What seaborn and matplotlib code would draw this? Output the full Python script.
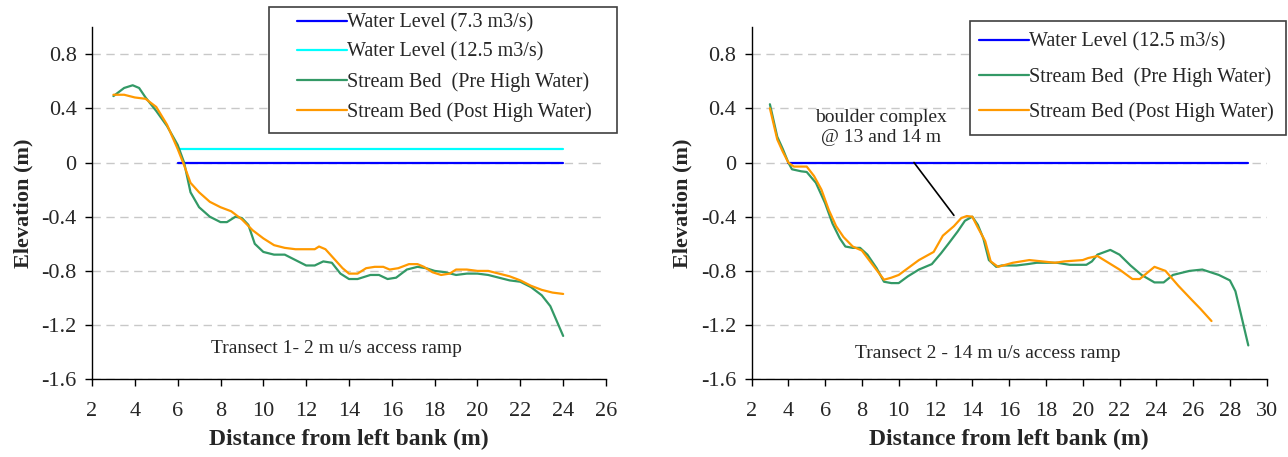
"""
Stream bed cross-sections before and after high water, two transects.
"""

import matplotlib
matplotlib.use("Agg")
import matplotlib.pyplot as plt
from matplotlib.patches import Rectangle
import seaborn as sns

# ---- Transect 1 (2 m u/s access ramp) ----
t1_wl_x = [6, 24]
t1_wl73_y = [0.0, 0.0]
t1_wl125_y = [0.1, 0.1]

t1_pre_x = [3.0, 3.5, 3.9, 4.2, 4.5, 5.0, 5.5, 6.0, 6.3, 6.6, 7.0, 7.5, 8.0, 8.3,
            8.7, 9.0, 9.3, 9.6, 10.0, 10.5, 11.0, 11.5, 12.0, 12.4, 12.8, 13.2,
            13.6, 14.0, 14.4, 15.0, 15.4, 15.8, 16.2, 16.7, 17.2, 17.6, 18.0,
            18.5, 19.0, 19.5, 20.0, 20.5, 21.0, 21.5, 22.0, 22.5, 23.0, 23.4,
            23.7, 24.0]
t1_pre_y = [0.49, 0.55, 0.57, 0.55, 0.48, 0.38, 0.27, 0.13, 0.0, -0.22, -0.33,
            -0.40, -0.44, -0.44, -0.40, -0.41, -0.46, -0.60, -0.66, -0.68, -0.68,
            -0.72, -0.76, -0.76, -0.73, -0.74, -0.82, -0.86, -0.86, -0.83, -0.83,
            -0.86, -0.85, -0.79, -0.77, -0.78, -0.80, -0.81, -0.83, -0.82, -0.82,
            -0.83, -0.85, -0.87, -0.88, -0.92, -0.98, -1.06, -1.17, -1.28]

t1_post_x = [3.0, 3.5, 4.0, 4.5, 5.0, 5.5, 6.0, 6.3, 6.6, 7.0, 7.5, 8.0, 8.5,
             9.0, 9.5, 10.0, 10.5, 11.0, 11.5, 12.0, 12.4, 12.6, 12.9, 13.3,
             13.7, 14.0, 14.4, 14.8, 15.2, 15.6, 15.9, 16.3, 16.8, 17.2, 17.5,
             17.9, 18.3, 18.7, 19.0, 19.5, 20.0, 20.5, 21.0, 21.5, 22.0, 22.5,
             23.0, 23.5, 24.0]
t1_post_y = [0.50, 0.50, 0.48, 0.47, 0.41, 0.28, 0.10, -0.02, -0.15, -0.22,
             -0.29, -0.33, -0.36, -0.42, -0.50, -0.56, -0.61, -0.63, -0.64, -0.64,
             -0.64, -0.62, -0.64, -0.71, -0.78, -0.82, -0.82, -0.78, -0.77, -0.77,
             -0.79, -0.78, -0.75, -0.75, -0.77, -0.81, -0.83, -0.82, -0.79, -0.79,
             -0.80, -0.80, -0.82, -0.84, -0.87, -0.91, -0.94, -0.96, -0.97]

# ---- Transect 2 (14 m u/s access ramp) ----
t2_wl_x = [4, 29]
t2_wl125_y = [0.0, 0.0]

t2_pre_x = [3.0, 3.4, 3.7, 4.0, 4.2, 4.7, 5.0, 5.5, 6.0, 6.4, 6.8, 7.1, 7.5,
            7.9, 8.3, 8.8, 9.2, 9.6, 10.0, 10.5, 11.1, 11.8, 12.3, 12.7, 13.2,
            13.6, 14.0, 14.3, 14.6, 14.9, 15.3, 15.6, 16.4, 17.0, 17.5, 18.6,
            19.3, 20.2, 20.5, 20.8, 21.5, 22.0, 22.6, 23.2, 23.9, 24.4, 24.9,
            25.8, 26.5, 27.4, 28.0, 28.3, 28.6, 29.0]
t2_pre_y = [0.43, 0.19, 0.10, 0.0, -0.05, -0.065, -0.07, -0.15, -0.30, -0.45,
            -0.56, -0.62, -0.63, -0.63, -0.68, -0.78, -0.88, -0.89, -0.89, -0.84,
            -0.79, -0.75, -0.67, -0.60, -0.51, -0.43, -0.40, -0.46, -0.56, -0.72,
            -0.77, -0.76, -0.76, -0.75, -0.74, -0.74, -0.755, -0.755, -0.73,
            -0.68, -0.645, -0.68, -0.76, -0.83, -0.885, -0.885, -0.83, -0.80,
            -0.79, -0.83, -0.87, -0.95, -1.12, -1.35]

t2_post_x = [3.0, 3.4, 3.7, 4.0, 4.3, 4.7, 5.0, 5.4, 5.8, 6.2, 6.6, 7.0, 7.5,
             8.0, 8.5, 9.2, 9.6, 10.0, 10.5, 11.1, 11.9, 12.4, 13.0, 13.4, 13.7,
             14.0, 14.3, 14.7, 15.0, 15.4, 16.2, 17.1, 17.8, 18.5, 19.0, 20.0,
             20.3, 20.8, 21.4, 22.0, 22.7, 23.1, 23.9, 24.5, 25.2, 25.9, 26.4,
             27.0]
t2_post_y = [0.40, 0.17, 0.08, 0.0, -0.03, -0.03, -0.03, -0.10, -0.20, -0.35,
             -0.47, -0.55, -0.62, -0.65, -0.74, -0.865, -0.85, -0.83, -0.78, -0.72,
             -0.66, -0.54, -0.47, -0.41, -0.395, -0.40, -0.48, -0.58, -0.73, -0.77,
             -0.74, -0.72, -0.73, -0.74, -0.73, -0.72, -0.705, -0.69, -0.74, -0.79,
             -0.86, -0.86, -0.77, -0.80, -0.91, -1.01, -1.08, -1.17]

YTICKS = [-1.6, -1.2, -0.8, -0.4, 0, 0.4, 0.8]
YTICK_LABELS = ["-1.6", "-1.2", "-0.8", "-0.4", "0", "0.4", "0.8"]

BLUE = "#0000FF"
CYAN = "#00FFFF"
GREEN = "#339966"
ORANGE = "#FF9900"

W, H = 1288, 457

sns.set_style("white")
plt.rcParams["font.family"] = ["Liberation Serif", "DejaVu Serif"]

fig = plt.figure(figsize=(W / 100, H / 100), dpi=100)
ax1 = fig.add_axes([92 / W, 1 - 379.3 / H, (606 - 92) / W, 352.3 / H])
ax2 = fig.add_axes([751.5 / W, 1 - 379.3 / H, (1266.7 - 751.5) / W, 352.3 / H])

LW = 1.6

# Left panel
sns.lineplot(x=t1_wl_x, y=t1_wl73_y, color=BLUE, lw=LW, ax=ax1, label="Water Level (7.3 m3/s)")
sns.lineplot(x=t1_wl_x, y=t1_wl125_y, color=CYAN, lw=LW, ax=ax1, label="Water Level (12.5 m3/s)")
sns.lineplot(x=t1_pre_x, y=t1_pre_y, color=GREEN, lw=LW, sort=False, ax=ax1,
             label="Stream Bed  (Pre High Water)")
sns.lineplot(x=t1_post_x, y=t1_post_y, color=ORANGE, lw=LW, sort=False, ax=ax1,
             label="Stream Bed (Post High Water)")
ax1.text(13.4, -1.37, "Transect 1- 2 m u/s access ramp", ha="center", va="center", fontsize=14)

# Right panel
sns.lineplot(x=t2_wl_x, y=t2_wl125_y, color=BLUE, lw=LW, ax=ax2, label="Water Level (12.5 m3/s)")
sns.lineplot(x=t2_pre_x, y=t2_pre_y, color=GREEN, lw=LW, sort=False, ax=ax2,
             label="Stream Bed  (Pre High Water)")
sns.lineplot(x=t2_post_x, y=t2_post_y, color=ORANGE, lw=LW, sort=False, ax=ax2,
             label="Stream Bed (Post High Water)")
ax2.text(14.85, -1.41, "Transect 2 - 14 m u/s access ramp", ha="center", va="center", fontsize=14)
ax2.text(9.05, 0.26, "boulder complex\n@ 13 and 14 m", ha="center", va="center",
         fontsize=14, linespacing=1.25)
ax2.annotate("", xy=(13.0, -0.39), xytext=(10.83, 0.0),
             arrowprops=dict(arrowstyle="-", color="black", lw=1.2, shrinkA=0, shrinkB=0))

# legend frames (white boxes) drawn under the legend entries
frames = [(ax1, 269, 7, 617, 133), (ax2, 970, 21, 1286, 135)]
for ax, x0, y0, x1, y1 in frames:
    ax.add_patch(Rectangle((x0 / W, 1 - y1 / H), (x1 - x0) / W, (y1 - y0) / H,
                           transform=fig.transFigure, clip_on=False, zorder=4,
                           facecolor="white", edgecolor="#404040", lw=1.2))

for ax, xmax in ((ax1, 26), (ax2, 30)):
    ax.set_xlim(2, xmax)
    ax.set_ylim(-1.6, 1.0)
    ax.set_xticks(range(2, xmax + 1, 2))
    ax.set_yticks(YTICKS)
    ax.set_yticklabels(YTICK_LABELS)
    ax.yaxis.grid(True, color="#C8C8C8", linestyle=(0, (6, 4)), lw=1)
    ax.set_axisbelow(True)
    sns.despine(ax=ax)
    for s in ("left", "bottom"):
        ax.spines[s].set_color("black")
        ax.spines[s].set_linewidth(1)
    ax.tick_params(axis="both", direction="out", length=5, width=1, color="black",
                   labelsize=16, left=True, bottom=True)
    ax.tick_params(axis="x", pad=11)
    ax.tick_params(axis="y", pad=6)
    ax.set_xlabel("Distance from left bank (m)", fontsize=17, fontweight="bold", labelpad=6)
    ax.set_ylabel("Elevation (m)", fontsize=16, fontweight="bold", labelpad=6)

leg_kw = dict(loc="center left", fontsize=14.5, frameon=False, handlelength=2.5,
              handletextpad=0.0, borderpad=0, borderaxespad=0, bbox_transform=fig.transFigure)
ax1.legend(bbox_to_anchor=(297 / W, 1 - 67.5 / H), labelspacing=0.5, **leg_kw)
ax2.legend(bbox_to_anchor=(979 / W, 1 - 77.5 / H), labelspacing=0.77, **leg_kw)

fig.savefig("out.png", dpi=100)
plt.close(fig)
